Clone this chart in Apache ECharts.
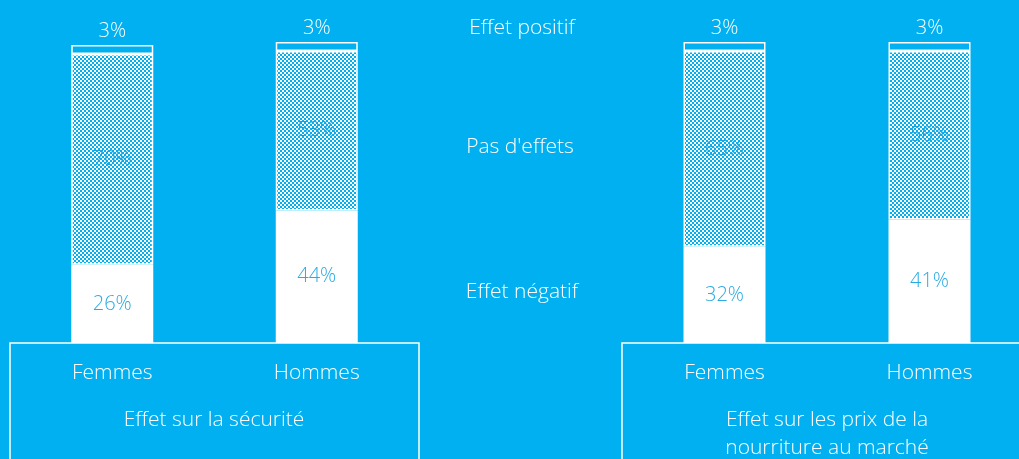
<!DOCTYPE html>
<html>
<head>
<meta charset="utf-8">
<script src="https://cdn.jsdelivr.net/npm/echarts@6/dist/echarts.min.js"></script>
<style>
  html, body { margin: 0; padding: 0; background: #00b0f0; }
  #chart { width: 1019px; height: 459px; }
</style>
</head>
<body>
<div id="chart"></div>
<script>
const genres = ['Femmes', 'Hommes']
const effets = ['Effet négatif', "Pas d'effets", 'Effet positif']
const blocs = ['Effet sur la sécurité', 'Effet sur les prix de la\nnourriture au marché']

// valeurs en %
const securiteNegatif = [26, 44]
const securiteAucun = [70, 53]
const securitePositif = [3, 3]
const prixNegatif = [32, 41]
const prixAucun = [65, 56]
const prixPositif = [3, 3]

const fond = '#00b0f0'
const police = '"Open Sans", "Noto Sans", sans-serif'

// motif damier blanc / bleu pour "Pas d'effets"
const damier = document.createElement('canvas')
damier.width = 4
damier.height = 4
const ctx = damier.getContext('2d')
ctx.fillStyle = fond
ctx.fillRect(0, 0, 4, 4)
ctx.fillStyle = '#ffffff'
ctx.fillRect(0, 0, 2, 2)
ctx.fillRect(2, 2, 2, 2)

const myChart = echarts.init(document.getElementById('chart'))

const serie = (name, data, idx, style, label) => ({
  name: name,
  type: 'bar',
  stack: 'g' + idx,
  xAxisIndex: idx,
  yAxisIndex: idx,
  barWidth: 82,
  data: data,
  itemStyle: Object.assign({ borderColor: '#ffffff', borderWidth: 1.5 }, style),
  label: Object.assign({
    show: true,
    formatter: '{c}%',
    fontFamily: police,
    fontWeight: 300,
    fontSize: 20
  }, label),
  emphasis: { disabled: true }
})

const axeX = idx => ({
  type: 'category',
  gridIndex: idx,
  data: genres,
  axisLine: { show: false },
  axisTick: { show: false },
  axisLabel: { color: '#ffffff', fontSize: 21, fontFamily: police, fontWeight: 300, margin: 20 }
})

const axeY = idx => ({
  type: 'value',
  gridIndex: idx,
  min: 0,
  max: 100,
  show: false
})

const texte = (txt, x, y) => ({
  type: 'text',
  x: x,
  y: y,
  style: {
    text: txt,
    fill: '#ffffff',
    font: '300 21px ' + police,
    textAlign: 'center',
    textVerticalAlign: 'middle',
    lineHeight: 28
  }
})

const option = {
  backgroundColor: fond,
  animation: false,
  grid: [
    { left: 10, width: 409, top: 42, bottom: 116, outerBoundsMode: 'none' },
    { left: 622, width: 410, top: 42, bottom: 116, outerBoundsMode: 'none' }
  ],
  xAxis: [axeX(0), axeX(1)],
  yAxis: [axeY(0), axeY(1)],
  series: [
    serie(effets[0], securiteNegatif, 0, { color: '#ffffff' }, { position: 'inside', color: '#29abe2' }),
    serie(effets[1], securiteAucun, 0, { color: { image: damier, repeat: 'repeat' } }, { position: 'inside', color: '#1d9fd9' }),
    serie(effets[2], securitePositif, 0, { color: fond }, { position: 'top', color: '#ffffff', distance: 4 }),
    serie(effets[0], prixNegatif, 1, { color: '#ffffff' }, { position: 'inside', color: '#29abe2' }),
    serie(effets[1], prixAucun, 1, { color: { image: damier, repeat: 'repeat' } }, { position: 'inside', color: '#1d9fd9' }),
    serie(effets[2], prixPositif, 1, { color: fond }, { position: 'top', color: '#ffffff', distance: 4 })
  ],
  graphic: [
    {
      type: 'rect',
      shape: { x: 10, y: 343, width: 409, height: 140 },
      style: { fill: fond, stroke: '#ffffff', lineWidth: 1.5 },
      z: -1
    },
    {
      type: 'rect',
      shape: { x: 622, y: 343, width: 420, height: 140 },
      style: { fill: fond, stroke: '#ffffff', lineWidth: 1.5 },
      z: -1
    },
    texte(blocs[0], 214, 420),
    texte(blocs[1], 827, 434),
    texte(effets[2], 522, 28),
    texte(effets[1], 520, 147),
    texte(effets[0], 522, 292)
  ]
}

myChart.setOption(option)
window.addEventListener('resize', () => myChart.resize())
</script>
</body>
</html>
